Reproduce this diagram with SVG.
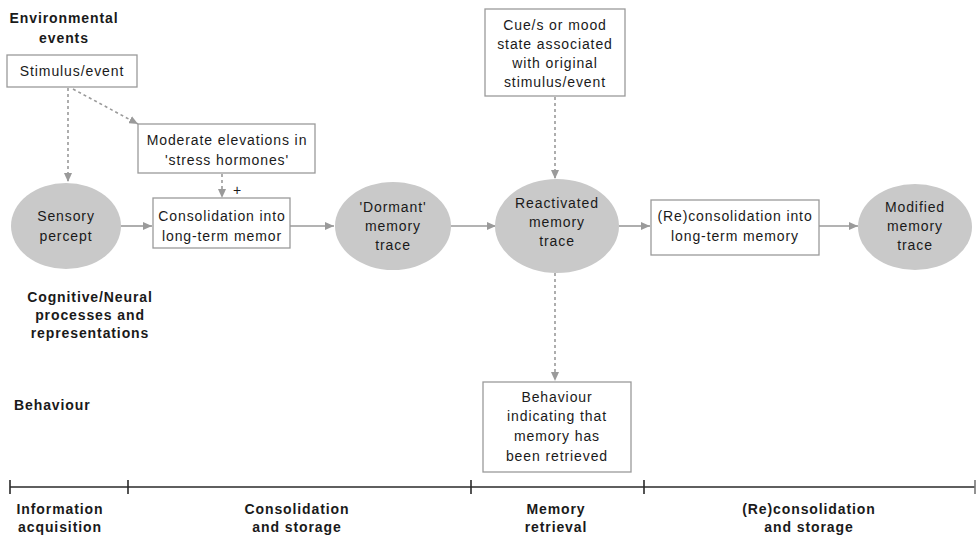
<svg xmlns="http://www.w3.org/2000/svg" width="980" height="537" viewBox="0 0 980 537">
<style>
text{font-family:"Liberation Sans",Arial,sans-serif;font-size:14px;letter-spacing:0.9px;fill:#1a1a1a;text-anchor:middle}
.b{font-weight:bold}
.l{text-anchor:start}
.box{fill:#fff;stroke:#9a9a9a;stroke-width:1.3}
.ell{fill:#c9c9c9;stroke:none}
.arr{stroke:#9a9a9a;stroke-width:1.6;fill:none;marker-end:url(#ah)}
.dash{stroke-dasharray:3 3}
.tl{stroke:#2a2a2a;stroke-width:1.6;fill:none}
</style>
<defs>
<marker id="ah" markerUnits="userSpaceOnUse" markerWidth="10" markerHeight="8" refX="9" refY="4" orient="auto">
<path d="M0,0 L9,4 L0,8 z" fill="#9a9a9a"/>
</marker>
</defs>

<g id="labels">
<text class="b" x="64" y="23">Environmental</text>
<text class="b" x="64" y="43">events</text>
<text class="b" x="90" y="302">Cognitive/Neural</text>
<text class="b" x="90" y="320">processes and</text>
<text class="b" x="90" y="338">representations</text>
<text class="b l" x="14" y="410">Behaviour</text>
</g>

<g id="connectors">
<line class="arr dash" x1="68" y1="88" x2="68" y2="182"/>
<line class="arr dash" x1="73" y1="89" x2="138" y2="124"/>
<line class="arr dash" x1="222" y1="174" x2="222" y2="198"/>
<line class="arr" x1="121" y1="226" x2="152" y2="226"/>
<line class="arr" x1="290" y1="226" x2="334" y2="226"/>
<line class="arr" x1="451" y1="226" x2="496" y2="226"/>
<line class="arr" x1="619" y1="226" x2="650" y2="226"/>
<line class="arr" x1="819" y1="226" x2="858" y2="226"/>
<line class="arr dash" x1="555" y1="97" x2="555" y2="179"/>
<line class="arr dash" x1="555" y1="273" x2="555" y2="381"/>
<text x="237" y="195" style="letter-spacing:0">+</text>
</g>

<g id="stimulus">
<rect class="box" x="7" y="55" width="130" height="32"/>
<text x="72" y="76">Stimulus/event</text>
</g>

<g id="stress">
<rect class="box" x="138" y="124" width="177" height="49"/>
<text x="227" y="145">Moderate elevations in</text>
<text x="227" y="165">'stress hormones'</text>
</g>

<g id="sensory">
<ellipse class="ell" cx="66" cy="226" rx="55" ry="43"/>
<text x="66" y="221">Sensory</text>
<text x="66" y="241">percept</text>
</g>

<g id="consolidation">
<rect class="box" x="153" y="198" width="137" height="50"/>
<text x="222" y="221">Consolidation into</text>
<text x="222" y="241">long-term memor</text>
</g>

<g id="dormant">
<ellipse class="ell" cx="393" cy="226" rx="58" ry="44"/>
<text x="393" y="212">'Dormant'</text>
<text x="393" y="231">memory</text>
<text x="393" y="250">trace</text>
</g>

<g id="cue">
<rect class="box" x="485" y="9" width="140" height="87"/>
<text x="555" y="30">Cue/s or mood</text>
<text x="555" y="49">state associated</text>
<text x="555" y="68">with original</text>
<text x="555" y="87">stimulus/event</text>
</g>

<g id="reactivated">
<ellipse class="ell" cx="557" cy="226" rx="62" ry="47"/>
<text x="557" y="208">Reactivated</text>
<text x="557" y="227">memory</text>
<text x="557" y="246">trace</text>
</g>

<g id="reconsolidation">
<rect class="box" x="651" y="200" width="168" height="55"/>
<text x="735" y="221">(Re)consolidation into</text>
<text x="735" y="241">long-term memory</text>
</g>

<g id="modified">
<ellipse class="ell" cx="915" cy="227" rx="57" ry="43"/>
<text x="915" y="212">Modified</text>
<text x="915" y="231">memory</text>
<text x="915" y="250">trace</text>
</g>

<g id="behaviour">
<rect class="box" x="483" y="382" width="148" height="90"/>
<text x="557" y="402">Behaviour</text>
<text x="557" y="421">indicating that</text>
<text x="557" y="441">memory has</text>
<text x="557" y="461">been retrieved</text>
</g>

<g id="timeline">
<line class="tl" x1="10" y1="487" x2="975" y2="487"/>
<line class="tl" x1="10" y1="480" x2="10" y2="494"/>
<line class="tl" x1="128" y1="480" x2="128" y2="494"/>
<line class="tl" x1="471" y1="480" x2="471" y2="494"/>
<line class="tl" x1="644" y1="480" x2="644" y2="494"/>
<line class="tl" x1="975" y1="480" x2="975" y2="494" style="stroke:#777"/>
<text class="b" x="60" y="514">Information</text>
<text class="b" x="60" y="532">acquisition</text>
<text class="b" x="297" y="514">Consolidation</text>
<text class="b" x="297" y="532">and storage</text>
<text class="b" x="556" y="514">Memory</text>
<text class="b" x="556" y="532">retrieval</text>
<text class="b" x="809" y="514">(Re)consolidation</text>
<text class="b" x="809" y="532">and storage</text>
</g>
</svg>
